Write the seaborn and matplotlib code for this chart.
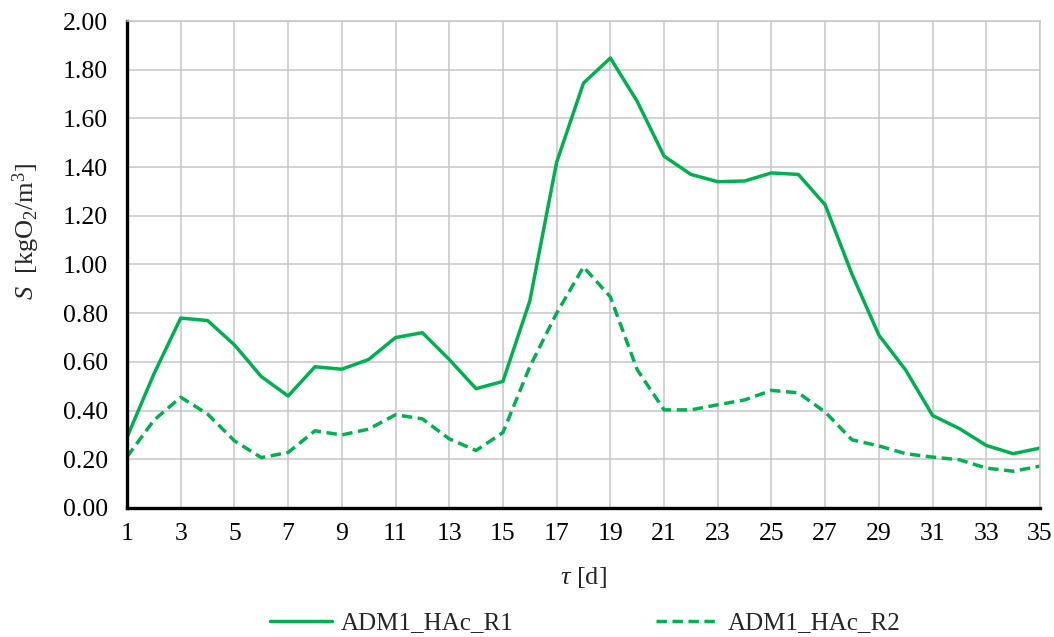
import matplotlib
matplotlib.use("Agg")
import matplotlib.pyplot as plt
import seaborn as sns
import pandas as pd
from matplotlib.ticker import FixedLocator, MultipleLocator, FormatStrFormatter

# ---- data ----
days = list(range(1, 36))
r1_label = "ADM1_HAc_R1"
r2_label = "ADM1_HAc_R2"
r1_values = [0.29, 0.55, 0.78, 0.77, 0.67, 0.54, 0.46, 0.58, 0.57, 0.61,
             0.70, 0.72, 0.61, 0.49, 0.52, 0.85, 1.42, 1.745, 1.848, 1.67,
             1.445, 1.37, 1.34, 1.343, 1.376, 1.37, 1.245, 0.96, 0.71, 0.566,
             0.38, 0.326, 0.257, 0.223, 0.246]
r2_values = [0.21, 0.36, 0.455, 0.386, 0.276, 0.207, 0.228, 0.317, 0.30, 0.324,
             0.383, 0.366, 0.284, 0.236, 0.31, 0.58, 0.80, 0.99, 0.867, 0.568,
             0.403, 0.403, 0.424, 0.444, 0.483, 0.473, 0.394, 0.28, 0.255, 0.223,
             0.209, 0.198, 0.164, 0.151, 0.172]
x_ticks = list(range(1, 36, 2))
x_minor = list(range(2, 35, 2))

green = "#00B050"
grid_col = "#C6C6C6"

sns.set_style("white")
plt.rcParams["font.family"] = ["Liberation Serif", "DejaVu Serif"]
plt.rcParams["mathtext.fontset"] = "custom"
plt.rcParams["mathtext.rm"] = "Liberation Serif"
plt.rcParams["mathtext.it"] = "Liberation Serif:italic"

df = pd.DataFrame({
    "day": days + days,
    "S": r1_values + r2_values,
    "series": [r1_label] * len(days) + [r2_label] * len(days),
})

fig = plt.figure(figsize=(10.54, 6.37), dpi=100)
ax = fig.add_axes([127 / 1054, 1 - 508 / 637, (1040 - 127) / 1054, (508 - 21) / 637])

sns.lineplot(data=df, x="day", y="S", hue="series", style="series",
             palette=[green, green],
             dashes={r1_label: "", r2_label: (3, 1.6)},
             linewidth=2.5, ax=ax, legend=True)

ax.set_xlim(1, 35)
ax.set_ylim(0, 2.0)
ax.xaxis.set_major_locator(FixedLocator(x_ticks))
ax.xaxis.set_minor_locator(FixedLocator(x_minor))
ax.yaxis.set_major_locator(MultipleLocator(0.2))
ax.yaxis.set_major_formatter(FormatStrFormatter("%.2f"))

ax.grid(True, which="major", color=grid_col, linewidth=1.1)
ax.set_axisbelow(True)
for s in ["left", "bottom"]:
    ax.spines[s].set_color("black")
    ax.spines[s].set_linewidth(2.4)
for s in ["top", "right"]:
    ax.spines[s].set_color(grid_col)
    ax.spines[s].set_linewidth(1.1)

ax.tick_params(axis="both", which="major", direction="inout", length=11,
               width=2.0, labelsize=18.5, colors="black")
ax.tick_params(axis="x", which="major", pad=5)
ax.tick_params(axis="y", which="major", pad=8)
ax.tick_params(axis="x", which="minor", direction="in", length=5, width=1.8)

ax.set_xlabel(r"$\tau$ [d]", fontsize=19)
ax.set_ylabel(r"$S$  [kgO$_2$/m$^3$]", fontsize=19)
ax.yaxis.set_label_coords(-0.093, 0.567)
ax.xaxis.set_label_coords(0.5, -0.117)

handles, labels = ax.get_legend_handles_labels()
if ax.get_legend() is not None:
    ax.get_legend().remove()
for h in handles:
    h.set_linewidth(2.5)
fig.legend(handles, labels, loc="center", bbox_to_anchor=(585 / 1054, 1 - 623 / 637),
           ncol=2, frameon=False, fontsize=18, handlelength=2.5,
           columnspacing=5.7, handletextpad=0.35)

fig.savefig("out.png", dpi=100)
